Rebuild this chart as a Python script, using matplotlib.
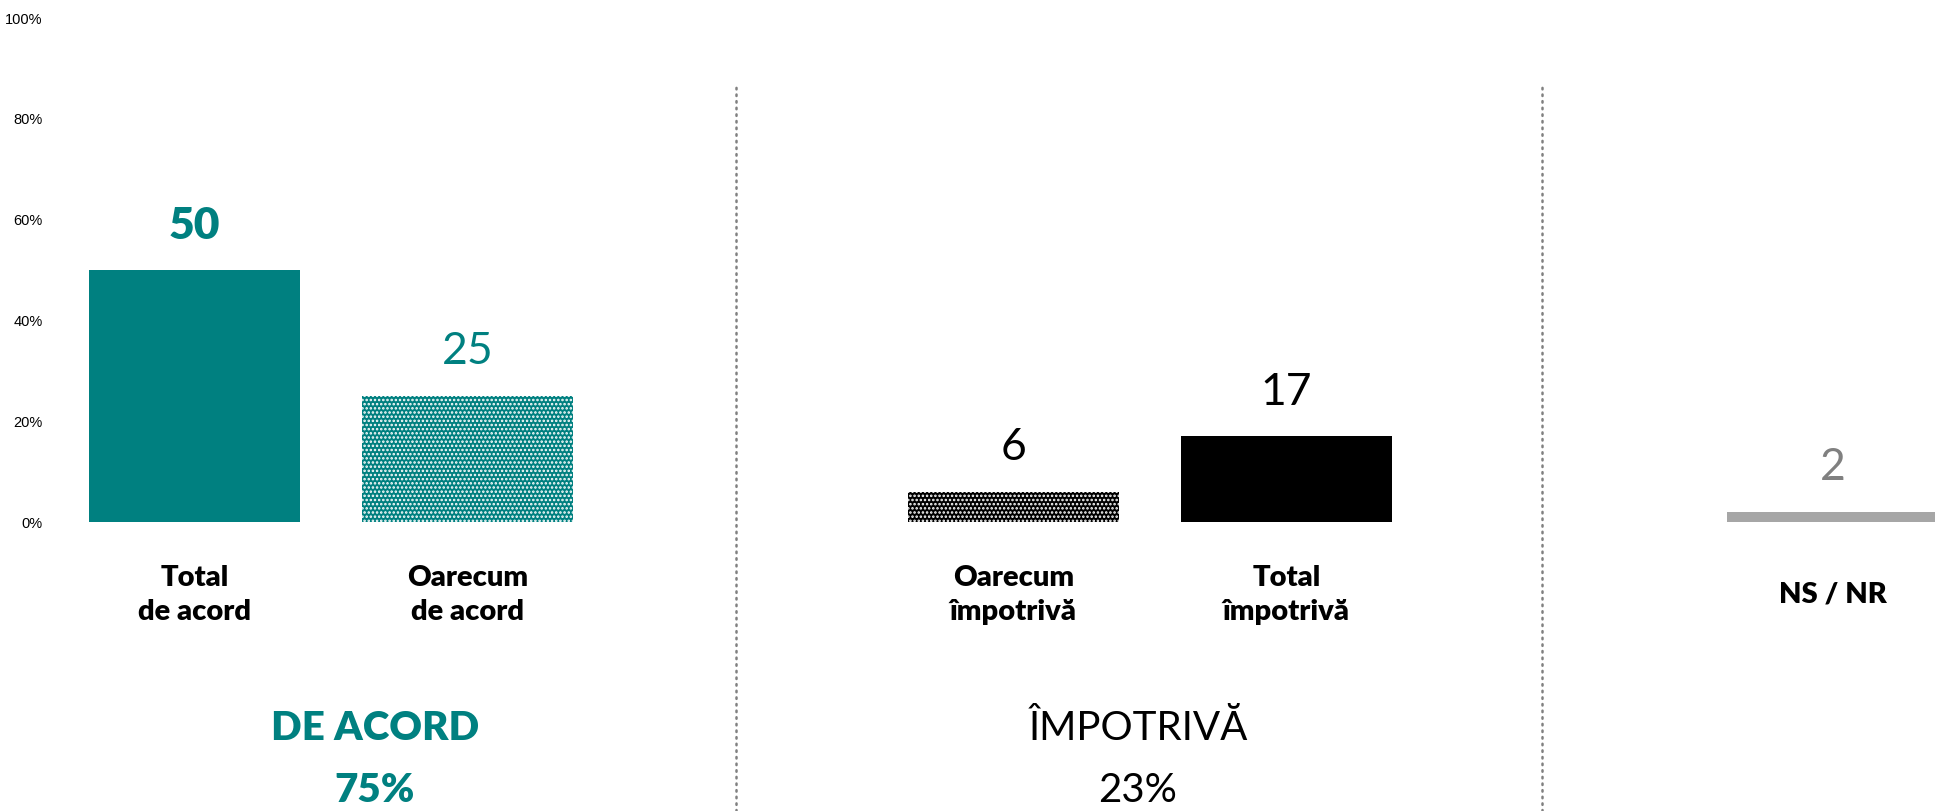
import matplotlib
matplotlib.use("Agg")
import matplotlib.pyplot as plt

# date
categorii = ["Total\nde acord", "Oarecum\nde acord", "Oarecum\nîmpotrivă", "Total\nîmpotrivă", "NS / NR"]
pozitii = [0, 1, 3, 4, 6]
valori = [50, 25, 6, 17, 2]
grupuri = ["DE ACORD", "ÎMPOTRIVĂ"]
grupuri_total = ["75%", "23%"]
y_ticks = [0, 20, 40, 60, 80, 100]

TEAL = "#008080"
culori = [TEAL, TEAL, "#000000", "#000000", "#A6A6A6"]
hatch = [None, "....", "....", None, None]
culori_val = [TEAL, TEAL, "#000000", "#000000", "#808080"]
bold_val = [True, False, False, False, False]

W, H = 1935, 811
DPI = 100
PX = 72.0 / DPI  # points per pixel
BOLD = "heavy"

fig = plt.figure(figsize=(W / DPI, H / DPI), dpi=DPI)
# axa: x 55..1935 px, y 0% la 522 px, 100% la 18 px
ax = fig.add_axes([55 / W, (H - 522) / H, (W - 55) / W, 504 / H])
ax.set_ylim(0, 100)
ax.set_xlim((55 - 194.5) / 273, (W - 194.5) / 273)

plt.rcParams['hatch.linewidth'] = 1.2
for x, v, c, h in zip(pozitii, valori, culori, hatch):
    if h:
        ax.bar(x, v, width=0.773, color=c, edgecolor="white", hatch=h, linewidth=0)
    else:
        ax.bar(x, v, width=0.773, color=c, linewidth=0)

for x, v, c, b in zip(pozitii, valori, culori_val, bold_val):
    ax.annotate(str(v), (x, v), xytext=(0, 44 * PX), textcoords="offset points",
                ha="center", va="center", fontsize=32, color=c,
                fontweight=BOLD if b else "normal", family="Lato")

for x, lab in zip(pozitii, categorii):
    ax.annotate(lab, (x, 0), xytext=(0, -(595 - 522) * PX), textcoords="offset points",
                ha="center", va="center", fontsize=21, fontweight=BOLD,
                family="Lato", linespacing=1.4, annotation_clip=False)

# etichete grupuri
grup_x = [(375 - 194.5) / 273, (1138 - 194.5) / 273]
grup_col = [TEAL, "#000000"]
grup_bold = [True, False]
for gx, g, t, c, b in zip(grup_x, grupuri, grupuri_total, grup_col, grup_bold):
    w = BOLD if b else "normal"
    ax.annotate(g, (gx, 0), xytext=(0, -(729 - 522) * PX), textcoords="offset points",
                ha="center", va="center", fontsize=29, color=c, fontweight=w,
                family="Lato", annotation_clip=False)
    ax.annotate(t, (gx, 0), xytext=(0, -(790 - 522) * PX), textcoords="offset points",
                ha="center", va="center", fontsize=29, color=c, fontweight=w,
                family="Lato", annotation_clip=False)

# separatoare punctate
for sx in [(736 - 194.5) / 273, (1541.5 - 194.5) / 273]:
    ax.axvline(sx, ymin=(522 - 811) / 504, ymax=(522 - 84) / 504, color="#808080",
               linewidth=1.8, linestyle=(0, (0.6, 2.05)), dash_capstyle="round",
               clip_on=False)

ax.set_yticks(y_ticks)
ax.set_yticklabels([f"{t}%" for t in y_ticks], fontsize=10.5, family="Liberation Sans")
ax.tick_params(axis="y", length=0, pad=9)
ax.set_xticks([])
for s in ax.spines.values():
    s.set_visible(False)

fig.savefig("out.png", dpi=DPI)
